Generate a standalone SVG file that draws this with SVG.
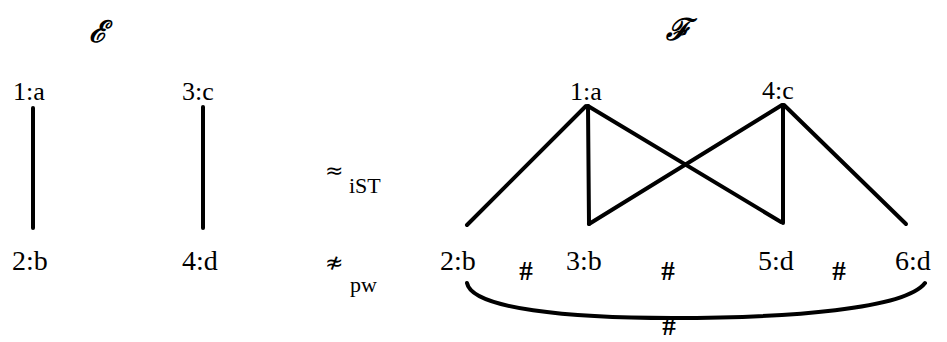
<svg xmlns="http://www.w3.org/2000/svg" width="947" height="342" viewBox="0 0 947 342">
<style>
.t{font-family:"Liberation Serif","Times New Roman",serif;font-size:26px;fill:#000}
.b{font-family:"Liberation Serif","Times New Roman",serif;font-size:28px;fill:#000}
.s{font-family:"Liberation Serif","Times New Roman",serif;font-size:22px;fill:#000}
.h{font-family:"Liberation Serif","Times New Roman",serif;font-size:27px;font-weight:bold;fill:#000}
.sym{font-family:"DejaVu Sans",sans-serif;font-size:22px;fill:#000}
.sc{font-family:"DejaVu Serif",serif;font-size:30px;font-style:italic;font-weight:bold;fill:#000}
.e{stroke:#000;stroke-width:4;fill:none;stroke-linecap:round}
</style>
<text class="sc" x="98" y="42" text-anchor="middle">ℰ</text>
<text class="sc" x="678" y="40" text-anchor="middle">ℱ</text>
<g id="connectors">
<line class="e" x1="33" y1="108" x2="33" y2="228"/>
<line class="e" x1="203" y1="107" x2="203" y2="228"/>
<line class="e" x1="586" y1="106" x2="467" y2="225"/>
<line class="e" x1="588" y1="106" x2="589" y2="224"/>
<line class="e" x1="589" y1="224" x2="782" y2="105"/>
<line class="e" x1="588" y1="106" x2="781" y2="222"/>
<line class="e" x1="783" y1="105" x2="783" y2="223"/>
<line class="e" x1="784" y1="105" x2="906" y2="224"/>
<path class="e" d="M467 283 C472 309 570 318 672 318 C790 318 905 309 925 283"/>
</g>
<g id="e1a"><text class="t" x="13" y="100">1:a</text></g>
<g id="e3c"><text class="t" x="182" y="100">3:c</text></g>
<g id="e2b"><text class="b" x="12" y="270">2:b</text></g>
<g id="e4d"><text class="b" x="182" y="270">4:d</text></g>
<g id="f1a"><text class="t" x="570" y="100">1:a</text></g>
<g id="f4c"><text class="t" x="762" y="99">4:c</text></g>
<g id="f2b"><text class="b" x="440" y="270">2:b</text></g>
<g id="f3b"><text class="b" x="566" y="270">3:b</text></g>
<g id="f5d"><text class="b" x="758" y="270">5:d</text></g>
<g id="f6d"><text class="b" x="895" y="270">6:d</text></g>
<text class="h" x="526" y="280" text-anchor="middle">#</text>
<text class="h" x="668" y="280" text-anchor="middle">#</text>
<text class="h" x="839" y="280" text-anchor="middle">#</text>
<text class="h" x="669" y="335" text-anchor="middle">#</text>
<text class="sym" x="325" y="178">≈</text>
<text class="s" x="349" y="193">iST</text>
<text class="sym" x="325" y="270">≉</text>
<text class="s" x="350" y="292">pw</text>
</svg>
